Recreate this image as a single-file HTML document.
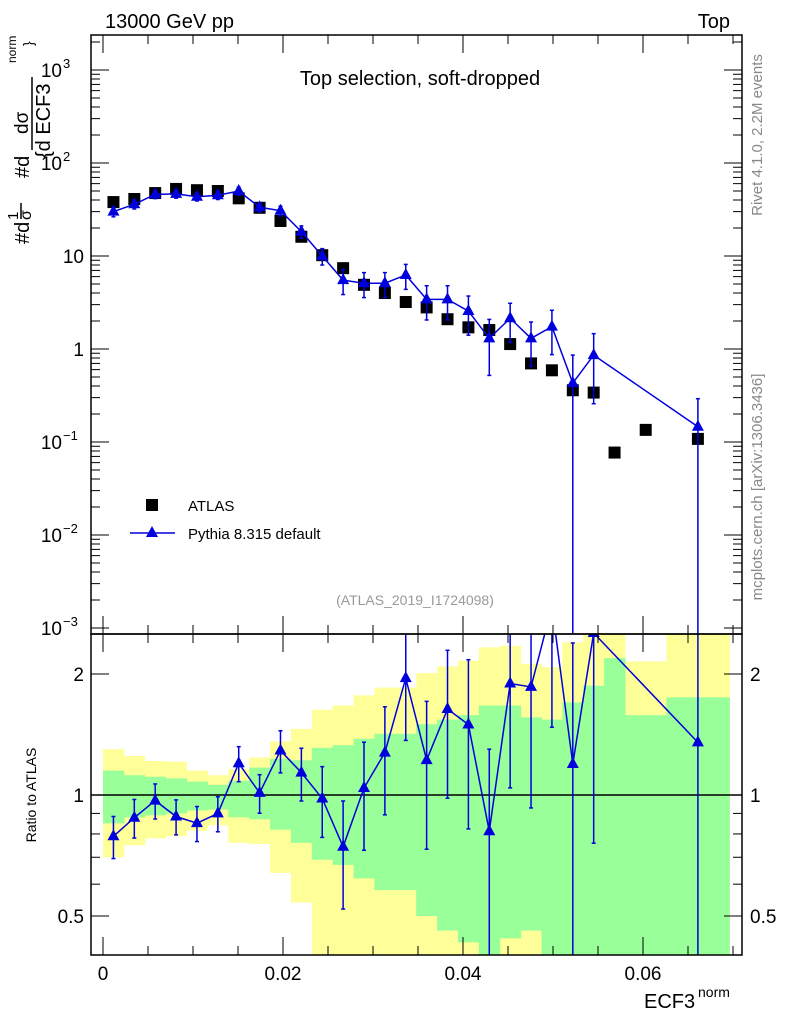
<!DOCTYPE html>
<html><head><meta charset="utf-8"><style>
body{margin:0;background:#fff;}
svg text{font-family:"Liberation Sans",sans-serif;}
</style></head><body>
<svg id="chart" width="786" height="1024" xmlns="http://www.w3.org/2000/svg">
<defs>
<clipPath id="mainClip"><rect x="91" y="35" width="651" height="599"/></clipPath>
<clipPath id="ratioClip"><rect x="91" y="634" width="651" height="321"/></clipPath>
</defs>
<g id="ratioBands" clip-path="url(#ratioClip)"></g>
<g id="marks"></g>
<rect x="91" y="35" width="651" height="599" fill="none" stroke="#000" stroke-width="1.5"/>
<rect x="91" y="634" width="651" height="321" fill="none" stroke="#000" stroke-width="1.5"/>
<g id="axes"></g>
<text x="105" y="28" font-size="20">13000 GeV pp</text>
<text x="730" y="28" font-size="20" text-anchor="end">Top</text>
<text x="420" y="85" font-size="20" text-anchor="middle">Top selection, soft-dropped</text>
<text x="415" y="605" font-size="14" fill="#999" text-anchor="middle">(ATLAS_2019_I1724098)</text>
<text transform="translate(762,135) rotate(-90)" font-size="15" fill="#888" text-anchor="middle">Rivet 4.1.0,  2.2M events</text>
<text transform="translate(762,487) rotate(-90)" font-size="15" fill="#888" text-anchor="middle">mcplots.cern.ch [arXiv:1306.3436]</text>
<g font-size="20">
<text transform="translate(29,244) rotate(-90)">#d</text>
<text transform="translate(18,220) rotate(-90)" font-size="15">1</text>
<line x1="21" y1="203" x2="21" y2="219" stroke="#000" stroke-width="1.5"/>
<text transform="translate(31,220) rotate(-90)" font-size="16">σ</text>
<text transform="translate(29,178) rotate(-90)">#d</text>
<text transform="translate(28,134) rotate(-90)" font-size="19">dσ</text>
<line x1="32" y1="77" x2="32" y2="150" stroke="#000" stroke-width="1.5"/>
<text transform="translate(50,158) rotate(-90)" font-size="20">{d ECF3</text>
<text transform="translate(16,63) rotate(-90)" font-size="12">norm</text>
<text transform="translate(33,46) rotate(-90)" font-size="14">}</text>
</g>
<text transform="translate(36,795) rotate(-90)" font-size="14" text-anchor="middle">Ratio to ATLAS</text>
<text x="644" y="1008" font-size="20">ECF3</text>
<text x="698" y="997" font-size="14">norm</text>
<g>
<rect x="146" y="499" width="12" height="12" fill="#000"/>
<text x="188" y="511" font-size="15">ATLAS</text>
<line x1="130" y1="533" x2="175" y2="533" stroke="#0000dd" stroke-width="1.5"/>
<polygon points="152,526 158,537 146,537" fill="#0000dd"/>
<text x="188" y="539" font-size="15">Pythia 8.315 default</text>
</g>
</svg>
<script>
const binEdges=[0,0.00232,0.00464,0.00696,0.00928,0.0116,0.01392,0.01624,0.01856,0.02088,0.0232,0.02552,0.02784,0.03016,0.03248,0.0348,0.03712,0.03944,0.04176,0.04408,0.0464,0.04872,0.05104,0.05336,0.05568,0.058,0.0626,0.0696];
const atlasValues=[38,41,47.5,52.6,51,50,41.7,33,23.8,16.1,10.2,7.4,4.9,4.0,3.2,2.8,2.09,1.71,1.6,1.13,0.70,0.59,0.36,0.34,0.077,0.135,0.108];
const pythiaValues=[30,36,46,46.5,43.4,45,50,33.4,30.7,18.3,10,5.5,5.1,5.1,6.25,3.42,3.42,2.56,1.30,2.14,1.30,1.74,0.43,0.86,null,null,0.146];
const pythiaRelErr=[0.12,0.11,0.10,0.10,0.10,0.10,0.10,0.11,0.12,0.15,0.2,0.3,0.3,0.3,0.3,0.4,0.4,0.45,0.6,0.45,0.5,0.5,1.0,0.7,null,null,1.0];
const yellowHi=[1.30,1.25,1.215,1.21,1.15,1.12,1.16,1.24,1.36,1.46,1.63,1.67,1.77,1.85,1.85,2.01,2.09,2.16,2.33,2.35,2.12,2.08,2.40,3,3,2.15,3];
const yellowLo=[0.70,0.75,0.78,0.79,0.815,0.84,0.76,0.755,0.64,0.54,0.3,0.3,0.3,0.3,0.3,0.3,0.3,0.3,0.3,0.3,0.3,0.3,0.3,0.3,0.3,0.42,0.3];
const greenHi=[1.15,1.12,1.11,1.10,1.08,1.06,1.085,1.17,1.23,1.22,1.31,1.33,1.38,1.42,1.42,1.50,1.54,1.58,1.67,1.67,1.56,1.54,1.70,1.87,2.19,1.58,1.75];
const greenLo=[0.85,0.88,0.89,0.90,0.915,0.92,0.88,0.87,0.82,0.76,0.69,0.67,0.62,0.58,0.58,0.50,0.46,0.43,0.3,0.44,0.46,0.3,0.3,0.3,0.3,0.3,0.3];
const xTickLabels=["0","0.02","0.04","0.06"];
const xTickValues=[0,0.02,0.04,0.06];

const NS="http://www.w3.org/2000/svg";
const X=v=>103+v*9000;
const Y=v=>349-93*Math.log10(v);
const R=v=>795-121*Math.log2(v);
function mk(tag,attrs,parent){const e=document.createElementNS(NS,tag);for(const k in attrs)e.setAttribute(k,attrs[k]);parent.appendChild(e);return e;}
const bands=document.getElementById('ratioBands');
const marks=document.getElementById('marks');
const axes=document.getElementById('axes');
const mainG=mk('g',{'clip-path':'url(#mainClip)'},marks);
const ratioG=mk('g',{'clip-path':'url(#ratioClip)'},marks);
const BLUE="#0000dd";

for(let i=0;i<atlasValues.length;i++){
  const x0=X(binEdges[i]),x1=X(binEdges[i+1]);
  const y=mk('rect',{x:x0,y:R(yellowHi[i]),width:x1-x0+0.5,height:R(yellowLo[i])-R(yellowHi[i]),fill:'#ffff99'},bands);
  
  
}
for(let i=0;i<atlasValues.length;i++){
  const x0=X(binEdges[i]),x1=X(binEdges[i+1]);
  const g=mk('rect',{x:x0,y:R(greenHi[i]),width:x1-x0+0.5,height:R(greenLo[i])-R(greenHi[i]),fill:'#99ff99'},bands);
  
  
}
mk('line',{x1:91,x2:742,y1:R(1),y2:R(1),stroke:'#000','stroke-width':1.5},ratioG);

function center(i){return (binEdges[i]+binEdges[i+1])/2;}
for(let i=0;i<atlasValues.length;i++){
  const s=mk('rect',{x:X(center(i))-6,y:Y(atlasValues[i])-6,width:12,height:12,fill:'#000'},mainG);
  
  
}
let pts=[],rpts=[];
for(let i=0;i<pythiaValues.length;i++){
  const v=pythiaValues[i];if(v==null)continue;
  const cx=X(center(i)),cy=Y(v),e=pythiaRelErr[i];
  const lo=v*(1-e)>0?Y(v*(1-e)):640, hi=Y(v*(1+e));
  mk('line',{x1:cx,x2:cx,y1:hi,y2:lo,stroke:BLUE,'stroke-width':1.5},mainG);
  mk('line',{x1:cx-2,x2:cx+2,y1:hi,y2:hi,stroke:BLUE,'stroke-width':1.5},mainG);
  if(lo<634)mk('line',{x1:cx-2,x2:cx+2,y1:lo,y2:lo,stroke:BLUE,'stroke-width':1.5},mainG);
  pts.push([cx,cy]);
  const r=v/atlasValues[i],ry=R(r);
  const rl=r*(1-e)>0?R(r*(1-e)):960, rh=R(r*(1+e));
  mk('line',{x1:cx,x2:cx,y1:rh,y2:rl,stroke:BLUE,'stroke-width':1.5},ratioG);
  mk('line',{x1:cx-2,x2:cx+2,y1:rh,y2:rh,stroke:BLUE,'stroke-width':1.5},ratioG);
  if(rl<955)mk('line',{x1:cx-2,x2:cx+2,y1:rl,y2:rl,stroke:BLUE,'stroke-width':1.5},ratioG);
  rpts.push([cx,ry]);
}
const pl=mk('polyline',{points:pts.map(p=>p.join(',')).join(' '),fill:'none',stroke:BLUE,'stroke-width':1.5},mainG);


const rl=mk('polyline',{points:rpts.map(p=>p.join(',')).join(' '),fill:'none',stroke:BLUE,'stroke-width':1.5},ratioG);


pts.forEach(p=>{const t=mk('polygon',{points:`${p[0]},${p[1]-7} ${p[0]+6},${p[1]+4} ${p[0]-6},${p[1]+4}`,fill:BLUE},mainG);
  
  });
rpts.forEach(p=>{const t=mk('polygon',{points:`${p[0]},${p[1]-7} ${p[0]+6},${p[1]+4} ${p[0]-6},${p[1]+4}`,fill:BLUE},ratioG);
  
  });

for(let d=-3;d<=3;d++){
  for(let m=1;m<10;m++){
    const v=m*Math.pow(10,d),y=Y(v);
    if(y<35||y>634)continue;
    const L=m==1?18:9;
    mk('line',{x1:91,x2:91+L,y1:y,y2:y,stroke:'#000'},axes);
    mk('line',{x1:742-L,x2:742,y1:y,y2:y,stroke:'#000'},axes);
  }
}
const ylab=[[-3,"10","−3"],[-2,"10","−2"],[-1,"10","−1"],[0,"1",""],[1,"10",""],[2,"10","2"],[3,"10","3"]];
ylab.forEach(a=>{
  const y=Y(Math.pow(10,a[0]));
  const t=mk('text',{x:a[2]?62:84,y:y+7,'font-size':19,'text-anchor':'end'},axes);
  t.textContent=a[1];
  
  
  if(a[2]){const s=mk('text',{x:63,y:y-2,'font-size':13},axes);s.textContent=a[2];}
});
[0.4,0.5,0.6,0.7,0.8,0.9,1,2].forEach(v=>{
  const y=R(v),L=(v==1||v==2||v==0.5)?18:9;
  mk('line',{x1:91,x2:91+L,y1:y,y2:y,stroke:'#000'},axes);
  mk('line',{x1:742-L,x2:742,y1:y,y2:y,stroke:'#000'},axes);
});
[[2,"2"],[1,"1"],[0.5,"0.5"]].forEach(a=>{
  const t=mk('text',{x:84,y:R(a[0])+7,'font-size':19,'text-anchor':'end'},axes);t.textContent=a[1];
  
  
  const t2=mk('text',{x:750,y:R(a[0])+7,'font-size':19},axes);t2.textContent=a[1];
  
  
});
for(let k=0;k<=14;k++){
  const v=k*0.005,x=X(v),L=(k%4==0)?18:9;
  mk('line',{x1:x,x2:x,y1:634,y2:634+L,stroke:'#000'},axes);
  mk('line',{x1:x,x2:x,y1:634-L,y2:634,stroke:'#000'},axes);
  mk('line',{x1:x,x2:x,y1:955-L,y2:955,stroke:'#000'},axes);
  mk('line',{x1:x,x2:x,y1:35,y2:35+L,stroke:'#000'},axes);
}
xTickValues.forEach((v,i)=>{
  const t=mk('text',{x:X(v),y:980,'font-size':19,'text-anchor':'middle'},axes);t.textContent=xTickLabels[i];
  
  
});
</script>
</body></html>
